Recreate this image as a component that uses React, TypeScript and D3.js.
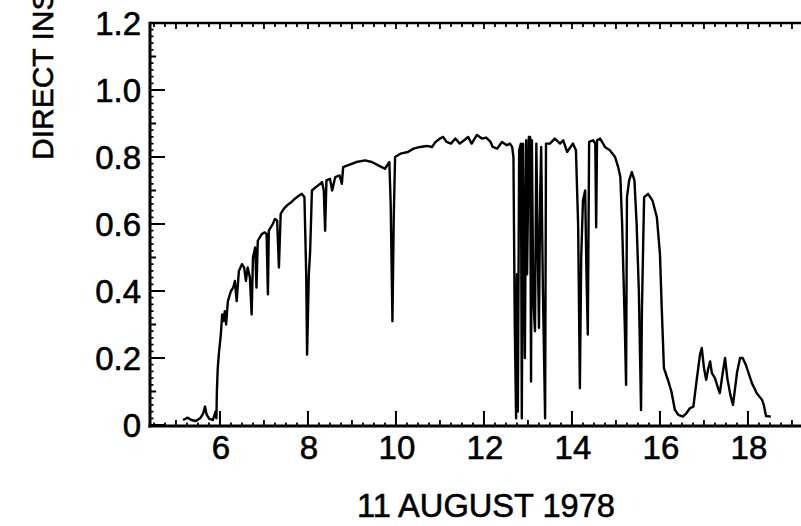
import React from "react";
import * as d3 from "d3";

// ---- data (hour of day, direct insolation) ----
const hours: number[] = [
  5.16, 5.27, 5.35, 5.45, 5.55, 5.62, 5.66, 5.7, 5.76, 5.84, 5.9, 5.92,
  5.93, 5.95, 5.98, 6.02, 6.05, 6.08, 6.11, 6.14, 6.18, 6.25, 6.3, 6.34, 6.38, 6.43, 6.5, 6.55, 6.59, 6.63, 6.68, 6.72, 6.75, 6.8, 6.83, 6.86, 6.95,
  7.02, 7.06, 7.09, 7.11, 7.2, 7.25, 7.3, 7.34, 7.38, 7.45, 7.52, 7.62, 7.7, 7.8, 7.86, 7.92, 7.96, 7.98,
  8.02, 8.05, 8.09, 8.18, 8.28, 8.32, 8.36, 8.39, 8.42, 8.5, 8.55, 8.62, 8.72, 8.77, 8.8, 8.9,
  9.1, 9.3, 9.45, 9.6, 9.75, 9.85, 9.88, 9.92, 9.95, 9.98,
  10.1, 10.27, 10.4, 10.55, 10.7, 10.82, 10.9, 11.0, 11.07, 11.15, 11.25, 11.35, 11.45, 11.55, 11.64, 11.72, 11.84, 11.95,
  12.05, 12.15, 12.2, 12.3, 12.41, 12.52, 12.59, 12.64,
  12.67, 12.7, 12.73, 12.75, 12.77, 12.8, 12.84, 12.86, 12.89, 12.93, 12.96, 12.98, 13.02, 13.05, 13.07, 13.09, 13.12, 13.16, 13.19, 13.22, 13.25, 13.28, 13.3, 13.34, 13.39, 13.41,
  13.5, 13.61, 13.73, 13.8, 13.89, 14.02, 14.09, 14.14, 14.18, 14.21, 14.25, 14.3, 14.33, 14.36, 14.39, 14.48, 14.53, 14.55, 14.57, 14.64, 14.75, 14.86, 14.98,
  15.05, 15.1, 15.14, 15.17, 15.2, 15.23, 15.25, 15.3, 15.36, 15.42, 15.47, 15.52, 15.57, 15.59, 15.62, 15.64, 15.73, 15.83, 15.93,
  16.0, 16.04, 16.09, 16.18, 16.26, 16.34, 16.42, 16.52, 16.6, 16.68, 16.76, 16.84, 16.91, 16.95,
  17.0, 17.05, 17.1, 17.14, 17.18, 17.25, 17.32, 17.36, 17.42, 17.48, 17.53, 17.6, 17.66, 17.75, 17.82, 17.88, 17.95,
  18.09, 18.2, 18.32, 18.36, 18.41, 18.52,
];

const insolation: number[] = [
  0.015, 0.022, 0.015, 0.012, 0.02, 0.035, 0.055, 0.03, 0.018, 0.015, 0.04, 0.02,
  0.1, 0.17, 0.22, 0.27, 0.33, 0.31, 0.34, 0.3, 0.37, 0.4, 0.41, 0.43, 0.37, 0.46, 0.48, 0.47, 0.43, 0.47, 0.44, 0.33, 0.5, 0.53, 0.41, 0.55, 0.57,
  0.575, 0.57, 0.39, 0.58, 0.6, 0.615, 0.61, 0.47, 0.63, 0.645, 0.655, 0.665, 0.675, 0.685, 0.69, 0.68, 0.45, 0.21,
  0.45, 0.52, 0.7, 0.71, 0.72, 0.725, 0.7, 0.58, 0.73, 0.735, 0.7, 0.74, 0.745, 0.72, 0.77, 0.775,
  0.785, 0.79, 0.785, 0.775, 0.765, 0.785, 0.66, 0.31, 0.62, 0.8,
  0.81, 0.815, 0.825, 0.83, 0.833, 0.83, 0.845, 0.855, 0.86, 0.845, 0.84, 0.855, 0.84, 0.85, 0.86, 0.84, 0.866, 0.855,
  0.858, 0.845, 0.83, 0.825, 0.845, 0.835, 0.84, 0.83,
  0.8, 0.3, 0.02, 0.45, 0.04, 0.82, 0.84, 0.02, 0.84, 0.2, 0.85, 0.45, 0.86, 0.86, 0.13, 0.85, 0.38, 0.28, 0.84, 0.55, 0.29, 0.7, 0.83, 0.4, 0.02, 0.84,
  0.84, 0.855, 0.84, 0.85, 0.815, 0.84, 0.82, 0.6, 0.11, 0.5, 0.67, 0.7, 0.45, 0.27, 0.845, 0.85, 0.84, 0.59, 0.85, 0.855, 0.83, 0.82, 0.8,
  0.77, 0.74, 0.6, 0.45, 0.3, 0.12, 0.68, 0.73, 0.755, 0.73, 0.6, 0.4, 0.045, 0.34, 0.55, 0.68, 0.69, 0.67, 0.62,
  0.51, 0.35, 0.17, 0.135, 0.1, 0.045, 0.03, 0.025, 0.035, 0.05, 0.055, 0.14, 0.21, 0.23,
  0.17, 0.135, 0.17, 0.19, 0.155, 0.14, 0.11, 0.095, 0.15, 0.2, 0.14, 0.09, 0.06, 0.155, 0.2, 0.2, 0.18,
  0.125, 0.095, 0.075, 0.06, 0.027, 0.025,
];

const xTickValues: number[] = [6, 8, 10, 12, 14, 16, 18];
const yTickValues: number[] = [0, 0.2, 0.4, 0.6, 0.8, 1.0, 1.2];
const yTickLabels: string[] = ["0", "0.2", "0.4", "0.6", "0.8", "1.0", "1.2"];
const xTitle = "11 AUGUST 1978";
const yTitle = "DIRECT INSOLATION";

const FONT = "'Liberation Sans', Arial, Helvetica, sans-serif";

export default function App() {
  const W = 801;
  const H = 526;
  const left = 150;
  const top = 23;
  const bottom = 426;
  const right = W + 5;

  const xs = d3.scaleLinear().domain([4.41, 19.4]).range([left, left + (19.4 - 4.41) * 44]);
  const ys = d3.scaleLinear().domain([0, 1.2]).range([425, top]);

  const pts: [number, number][] = hours.map((h, i) => [h, insolation[i]]);
  const lineGen = d3
    .line<[number, number]>()
    .x((d) => xs(d[0]))
    .y((d) => ys(d[1]));

  // tick positions
  const xQuarter = d3.range(18, 77).map((k) => k / 4); // 4.5 .. 19.0
  const yMinor = d3.range(0, 61).map((k) => k / 50); // 0 .. 1.2

  // build tick paths
  let topMinor = "";
  let botMinor = "";
  let botMajor = "";
  xQuarter.forEach((v) => {
    const px = xs(v);
    const isHour = Math.abs(v - Math.round(v)) < 1e-6;
    const major = isHour && Math.round(v) % 2 === 0;
    topMinor += `M${px},${top}V${top + (isHour ? 6 : 4)}`;
    if (major) botMajor += `M${px},${bottom}V${bottom - 15}`;
    else botMinor += `M${px},${bottom}V${bottom - (isHour ? 6 : 3.5)}`;
  });
  let leftMinor = "";
  let leftMajor = "";
  yMinor.forEach((v, k) => {
    const py = ys(v);
    if (k % 10 === 0) leftMajor += `M${left},${py}H${left + 15}`;
    else leftMinor += `M${left},${py}H${left + (k % 5 === 0 ? 6 : 3.5)}`;
  });

  const textProps = {
    fontFamily: FONT,
    fill: "#000",
    stroke: "#000",
    strokeWidth: 0.6,
  };

  return (
    <svg
      width={W}
      height={H}
      viewBox={`0 0 ${W} ${H}`}
      style={{ position: "fixed", left: 0, top: 0, background: "#fff" }}
    >
      <rect x={0} y={0} width={W} height={H} fill="#fff" />
      <defs>
        <clipPath id="plotclip">
          <rect x={left} y={top - 2} width={right - left} height={bottom - top + 4} />
        </clipPath>
      </defs>

      {/* ticks */}
      <path d={topMinor} stroke="#000" strokeWidth={1.8} fill="none" />
      <path d={botMinor} stroke="#000" strokeWidth={1.8} fill="none" />
      <path d={botMajor} stroke="#000" strokeWidth={2} fill="none" />
      <path d={leftMinor} stroke="#000" strokeWidth={1.8} fill="none" />
      <path d={leftMajor} stroke="#000" strokeWidth={2} fill="none" />

      {/* frame */}
      <path d={`M${left},${top}H${right}`} stroke="#000" strokeWidth={2.6} fill="none" />
      <path d={`M${left},${top - 1.3}V${bottom + 1.5}`} stroke="#000" strokeWidth={3} fill="none" />
      <path d={`M${left - 1.5},${bottom}H${right}`} stroke="#000" strokeWidth={3} fill="none" />

      {/* data line */}
      <path
        d={lineGen(pts) || ""}
        fill="none"
        stroke="#000"
        strokeWidth={2.4}
        strokeLinejoin="round"
        clipPath="url(#plotclip)"
      />

      {/* y tick labels */}
      {yTickValues.map((v, i) => (
        <text key={"yl" + i} x={141} y={ys(v) + 12} textAnchor="end" fontSize={33} {...textProps}>
          {yTickLabels[i]}
        </text>
      ))}

      {/* x tick labels */}
      {xTickValues.map((v, i) => (
        <text key={"xl" + i} x={xs(v) + 1} y={459} textAnchor="middle" fontSize={33} {...textProps}>
          {String(v)}
        </text>
      ))}

      {/* x title */}
      <text
        x={486}
        y={517}
        textAnchor="middle"
        fontSize={34}
        textLength={258}
        lengthAdjust="spacingAndGlyphs"
        {...textProps}
      >
        {xTitle}
      </text>

      {/* y title (rotated) */}
      <text
        transform="translate(53,160) rotate(-90)"
        x={0}
        y={0}
        textAnchor="start"
        fontSize={30}
        {...textProps}
      >
        {yTitle}
      </text>
    </svg>
  );
}
